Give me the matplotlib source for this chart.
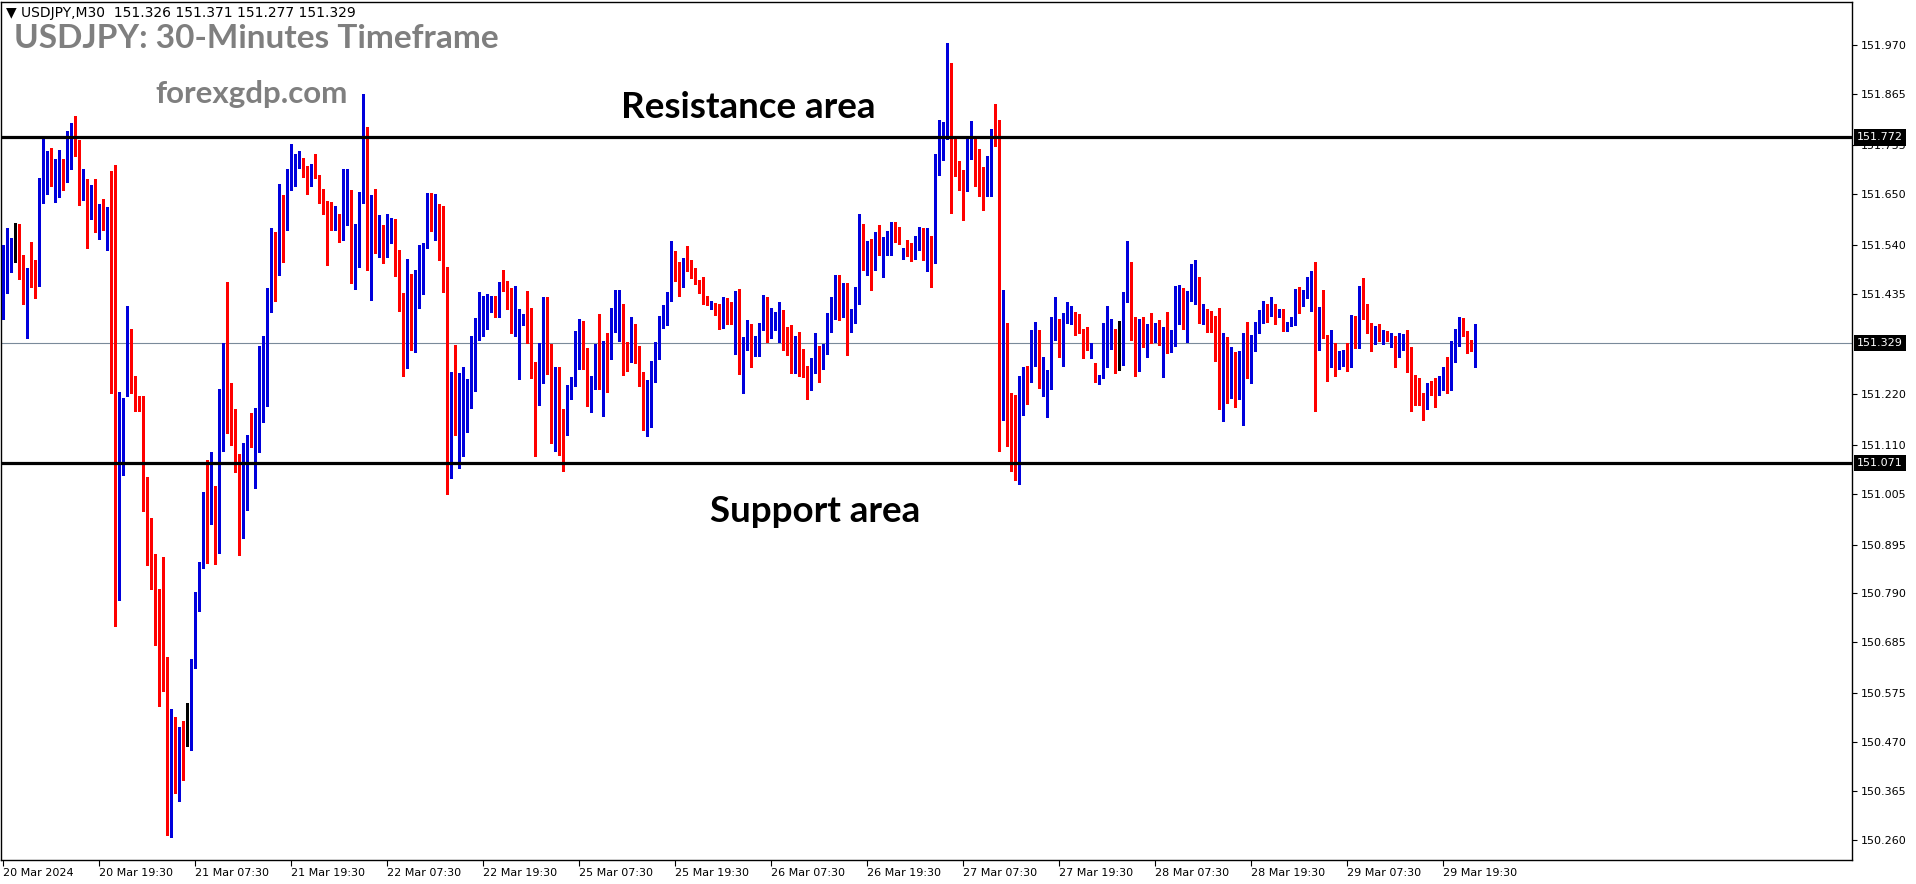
import matplotlib
matplotlib.use("Agg")
import matplotlib.pyplot as plt
import numpy as np
from matplotlib.transforms import blended_transform_factory

# ---------------- data (USDJPY M30 candles) ----------------
opens = [
    151.450, 151.487, 151.530, 151.541, 151.544, 151.475, 151.433, 151.491, 151.470, 151.453,
    151.658, 151.684, 151.729, 151.667, 151.708, 151.709, 151.681, 151.763, 151.766, 151.750,
    151.677, 151.679, 151.600, 151.664, 151.588, 151.616, 151.581, 151.618, 151.601, 150.785,
    151.084, 151.214, 151.355, 151.248, 151.205, 151.194, 150.975, 150.853, 150.846, 150.745,
    150.673, 150.625, 150.344, 150.508, 150.376, 150.496, 150.494, 150.490, 150.645, 150.767,
    150.854, 150.998, 150.995, 150.999, 150.881, 151.222, 151.274, 151.172, 151.158, 151.088,
    150.917, 151.112,
    151.115, 151.112, 151.123, 151.163, 151.326, 151.413, 151.539, 151.508, 151.623, 151.598,
    151.675, 151.696, 151.707, 151.726, 151.686, 151.673, 151.701, 151.689, 151.655, 151.611,
    151.603, 151.591, 151.604, 151.550, 151.617, 151.625, 151.475, 151.534, 151.630, 151.789,
    151.527, 151.630, 151.530, 151.571, 151.535, 151.592, 151.594, 151.488, 151.436, 151.310,
    151.453, 151.421, 151.478, 151.482, 151.536, 151.618, 151.589, 151.621, 151.589, 151.470,
    151.123, 151.216, 151.163, 151.170, 151.177, 151.192, 151.228, 151.351, 151.385, 151.389,
    151.398, 151.427, 151.409,
    151.459, 151.451, 151.430, 151.354, 151.268, 151.376, 151.382, 151.345, 151.288, 151.231,
    151.314, 151.416, 151.304, 151.202, 151.248, 151.140, 151.136, 151.237, 151.239, 151.314,
    151.365, 151.315, 151.214, 151.231, 151.320, 151.276, 151.327, 151.326, 151.356, 151.379,
    151.405, 151.313, 151.291, 151.315, 151.299, 151.241, 151.232, 151.240, 151.274, 151.296,
    151.363, 151.371, 151.423, 151.512, 151.490, 151.451, 151.512, 151.499, 151.479, 151.460,
    151.448, 151.425, 151.404, 151.414, 151.413, 151.361, 151.422, 151.394, 151.384, 151.389,
    151.286, 151.318,
    151.360, 151.314, 151.336, 151.365, 151.408, 151.356, 151.361, 151.371, 151.372, 151.336,
    151.317, 151.281, 151.324, 151.262, 151.261, 151.235, 151.271, 151.314, 151.277, 151.324,
    151.390, 151.402, 151.459, 151.402, 151.413, 151.368, 151.386, 151.413, 151.584, 151.489,
    151.524, 151.496, 151.567, 151.525, 151.541, 151.550, 151.584, 151.574, 151.512, 151.528,
    151.521, 151.510, 151.532, 151.569, 151.527, 151.529, 151.520, 151.692, 151.732, 151.768,
    151.893, 151.716, 151.703, 151.699, 151.693, 151.752, 151.755, 151.732, 151.700, 151.673,
    151.711, 151.787, 151.789,
    151.197, 151.371, 151.212, 151.205, 151.074, 151.233, 151.268, 151.254, 151.282, 151.330,
    151.236, 151.252, 151.256, 151.345, 151.378, 151.324, 151.384, 151.392, 151.394, 151.360,
    151.356, 151.329, 151.319, 151.285, 151.245, 151.256, 151.287, 151.330, 151.356, 151.297,
    151.294, 151.418, 151.502, 151.351, 151.302, 151.368, 151.324, 151.365, 151.339, 151.356,
    151.334, 151.354, 151.315, 151.338, 151.413, 151.442, 151.368, 151.433, 151.436, 151.463,
    151.395, 151.400, 151.376, 151.376, 151.356, 151.218, 151.302, 151.273, 151.285, 151.212,
    151.223, 151.345,
    151.296, 151.336, 151.368, 151.385, 151.401, 151.389, 151.404, 151.389, 151.400, 151.356,
    151.372, 151.379, 151.424, 151.415, 151.427, 151.444, 151.478, 151.317, 151.404, 151.343,
    151.279, 151.311, 151.279, 151.283, 151.295, 151.282, 151.357, 151.343, 151.468, 151.412,
    151.360, 151.342, 151.354, 151.344, 151.350, 151.339, 151.343, 151.307, 151.329, 151.340,
    151.272, 151.222, 151.208, 151.208, 151.194, 151.238, 151.233, 151.227, 151.230, 151.264,
    151.263, 151.299, 151.345, 151.380, 151.351, 151.317, 151.326,
]

highs = [
    151.541, 151.576, 151.554, 151.588, 151.585, 151.518, 151.490, 151.547, 151.507, 151.685,
    151.769, 151.743, 151.749, 151.726, 151.745, 151.726, 151.785, 151.802, 151.817, 151.766,
    151.703, 151.681, 151.669, 151.681, 151.628, 151.638, 151.621, 151.700, 151.712, 151.224,
    151.210, 151.408, 151.359, 151.259, 151.214, 151.214, 151.040, 150.953, 150.875, 150.799,
    150.869, 150.653, 150.541, 150.524, 150.503, 150.515, 150.554, 150.649, 150.794, 150.858,
    151.008, 151.077, 151.095, 151.021, 151.231, 151.330, 151.461, 151.242, 151.188, 151.090,
    151.113, 151.132,
    151.178, 151.190, 151.322, 151.345, 151.447, 151.577, 151.569, 151.672, 151.647, 151.704,
    151.758, 151.735, 151.743, 151.728, 151.709, 151.714, 151.735, 151.691, 151.661, 151.634,
    151.632, 151.625, 151.607, 151.703, 151.703, 151.659, 151.586, 151.655, 151.865, 151.794,
    151.647, 151.661, 151.605, 151.584, 151.607, 151.598, 151.596, 151.530, 151.436, 151.510,
    151.478, 151.487, 151.541, 151.544, 151.652, 151.652, 151.650, 151.628, 151.625, 151.493,
    151.266, 151.325, 151.264, 151.277, 151.252, 151.345, 151.383, 151.439, 151.430, 151.434,
    151.430, 151.430, 151.461,
    151.487, 151.463, 151.447, 151.452, 151.402, 151.391, 151.440, 151.404, 151.288, 151.330,
    151.429, 151.429, 151.327, 151.277, 151.277, 151.186, 151.239, 151.256, 151.355, 151.381,
    151.377, 151.319, 151.259, 151.326, 151.391, 151.334, 151.351, 151.404, 151.444, 151.443,
    151.412, 151.332, 151.384, 151.369, 151.322, 151.266, 151.250, 151.290, 151.332, 151.387,
    151.411, 151.438, 151.548, 151.527, 151.504, 151.513, 151.538, 151.508, 151.491, 151.464,
    151.472, 151.430, 151.419, 151.415, 151.413, 151.428, 151.425, 151.417, 151.442, 151.445,
    151.342, 151.379,
    151.370, 151.345, 151.373, 151.433, 151.429, 151.405, 151.395, 151.417, 151.401, 151.363,
    151.367, 151.345, 151.353, 151.317, 151.280, 151.296, 151.351, 151.322, 151.327, 151.393,
    151.427, 151.476, 151.476, 151.459, 151.459, 151.402, 151.449, 151.606, 151.586, 151.548,
    151.552, 151.569, 151.584, 151.557, 151.570, 151.590, 151.589, 151.578, 151.534, 151.551,
    151.544, 151.559, 151.579, 151.577, 151.576, 151.559, 151.735, 151.809, 151.804, 151.974,
    151.932, 151.769, 151.720, 151.701, 151.768, 151.806, 151.768, 151.746, 151.707, 151.732,
    151.789, 151.843, 151.808,
    151.444, 151.373, 151.222, 151.218, 151.257, 151.277, 151.280, 151.356, 151.375, 151.356,
    151.299, 151.270, 151.384, 151.429, 151.381, 151.393, 151.418, 151.408, 151.396, 151.391,
    151.359, 151.364, 151.328, 151.287, 151.261, 151.373, 151.408, 151.381, 151.359, 151.377,
    151.439, 151.548, 151.504, 151.384, 151.381, 151.386, 151.370, 151.393, 151.373, 151.379,
    151.364, 151.396, 151.356, 151.451, 151.453, 151.447, 151.442, 151.499, 151.507, 151.471,
    151.412, 151.402, 151.398, 151.387, 151.405, 151.350, 151.343, 151.320, 151.309, 151.311,
    151.350, 151.375,
    151.347, 151.375, 151.401, 151.420, 151.412, 151.429, 151.413, 151.403, 151.402, 151.375,
    151.386, 151.446, 151.449, 151.444, 151.471, 151.485, 151.504, 151.406, 151.444, 151.346,
    151.357, 151.329, 151.312, 151.313, 151.328, 151.390, 151.388, 151.451, 151.468, 151.413,
    151.373, 151.365, 151.371, 151.356, 151.354, 151.351, 151.344, 151.351, 151.348, 151.357,
    151.321, 151.261, 151.253, 151.222, 151.244, 151.248, 151.253, 151.257, 151.277, 151.299,
    151.334, 151.360, 151.385, 151.383, 151.354, 151.336, 151.371,
]

lows = [
    151.381, 151.436, 151.482, 151.504, 151.467, 151.413, 151.339, 151.450, 151.425, 151.451,
    151.630, 151.649, 151.667, 151.632, 151.643, 151.658, 151.675, 151.703, 151.731, 151.626,
    151.636, 151.533, 151.596, 151.567, 151.552, 151.572, 151.530, 151.222, 150.719, 150.776,
    151.044, 151.214, 151.222, 151.182, 151.183, 150.967, 150.852, 150.799, 150.679, 150.548,
    150.579, 150.270, 150.266, 150.361, 150.344, 150.389, 150.462, 150.454, 150.630, 150.753,
    150.844, 150.856, 150.940, 150.853, 150.878, 151.097, 151.135, 151.110, 151.052, 150.873,
    150.909, 150.970,
    151.106, 151.016, 151.095, 151.160, 151.194, 151.396, 151.419, 151.476, 151.504, 151.573,
    151.659, 151.666, 151.705, 151.686, 151.649, 151.667, 151.684, 151.630, 151.607, 151.496,
    151.573, 151.573, 151.546, 151.550, 151.584, 151.459, 151.446, 151.493, 151.630, 151.487,
    151.422, 151.522, 151.514, 151.501, 151.514, 151.545, 151.474, 151.399, 151.259, 151.276,
    151.313, 151.309, 151.404, 151.434, 151.534, 151.571, 151.550, 151.508, 151.438, 151.004,
    151.038, 151.131, 151.060, 151.086, 151.138, 151.190, 151.225, 151.336, 151.345, 151.359,
    151.396, 151.384, 151.384,
    151.442, 151.402, 151.351, 151.345, 151.251, 151.368, 151.330, 151.254, 151.086, 151.195,
    151.242, 151.263, 151.114, 151.097, 151.089, 151.054, 151.132, 151.208, 151.236, 151.273,
    151.273, 151.193, 151.180, 151.229, 151.231, 151.172, 151.223, 151.295, 151.353, 151.334,
    151.260, 151.269, 151.288, 151.286, 151.236, 151.142, 151.129, 151.149, 151.245, 151.294,
    151.361, 151.367, 151.420, 151.462, 151.430, 151.450, 151.485, 151.470, 151.457, 151.436,
    151.413, 151.411, 151.402, 151.390, 151.360, 151.361, 151.371, 151.371, 151.306, 151.262,
    151.221, 151.313,
    151.277, 151.302, 151.302, 151.358, 151.332, 151.339, 151.358, 151.332, 151.315, 151.303,
    151.264, 151.264, 151.259, 151.256, 151.208, 151.228, 151.265, 151.246, 151.273, 151.305,
    151.353, 151.381, 151.378, 151.384, 151.303, 151.353, 151.372, 151.413, 151.487, 151.475,
    151.443, 151.486, 151.519, 151.472, 151.518, 151.518, 151.546, 151.542, 151.510, 151.516,
    151.505, 151.509, 151.529, 151.507, 151.484, 151.450, 151.501, 151.690, 151.723, 151.768,
    151.609, 151.689, 151.658, 151.593, 151.656, 151.726, 151.666, 151.645, 151.616, 151.645,
    151.645, 151.752, 151.097,
    151.163, 151.108, 151.054, 151.034, 151.026, 151.174, 151.197, 151.246, 151.280, 151.232,
    151.214, 151.169, 151.231, 151.336, 151.299, 151.280, 151.373, 151.371, 151.347, 151.351,
    151.296, 151.315, 151.296, 151.245, 151.240, 151.254, 151.277, 151.317, 151.265, 151.272,
    151.282, 151.417, 151.336, 151.259, 151.268, 151.320, 151.299, 151.330, 151.331, 151.325,
    151.255, 151.307, 151.309, 151.322, 151.371, 151.360, 151.332, 151.420, 151.413, 151.373,
    151.371, 151.352, 151.352, 151.291, 151.186, 151.162, 151.199, 151.210, 151.192, 151.208,
    151.152, 151.253,
    151.244, 151.311, 151.350, 151.372, 151.375, 151.387, 151.371, 151.385, 151.355, 151.355,
    151.365, 151.368, 151.394, 151.408, 151.425, 151.398, 151.182, 151.315, 151.339, 151.248,
    151.277, 151.257, 151.274, 151.280, 151.268, 151.277, 151.318, 151.319, 151.381, 151.350,
    151.311, 151.326, 151.334, 151.326, 151.334, 151.321, 151.278, 151.299, 151.313, 151.266,
    151.183, 151.196, 151.196, 151.164, 151.186, 151.217, 151.192, 151.218, 151.228, 151.222,
    151.227, 151.288, 151.322, 151.344, 151.307, 151.311, 151.277,
]

closes = [
    151.487, 151.530, 151.539, 151.541, 151.475, 151.433, 151.490, 151.470, 151.453, 151.659,
    151.687, 151.727, 151.667, 151.706, 151.710, 151.681, 151.763, 151.769, 151.750, 151.676,
    151.680, 151.596, 151.667, 151.590, 151.616, 151.581, 151.621, 151.601, 150.787, 151.084,
    151.207, 151.354, 151.240, 151.208, 151.194, 150.970, 150.852, 150.844, 150.742, 150.671,
    150.622, 150.344, 150.506, 150.371, 150.494, 150.492, 150.494, 150.649, 150.772, 150.854,
    151.004, 150.992, 150.999, 150.882, 151.225, 151.256, 151.172, 151.157, 151.084, 150.921,
    151.113, 151.114,
    151.109, 151.129, 151.168, 151.328, 151.408, 151.541, 151.510, 151.623, 151.596, 151.675,
    151.700, 151.707, 151.726, 151.686, 151.675, 151.701, 151.686, 151.655, 151.634, 151.604,
    151.590, 151.604, 151.550, 151.617, 151.640, 151.482, 151.534, 151.631, 151.785, 151.527,
    151.633, 151.527, 151.573, 151.533, 151.588, 151.593, 151.486, 151.434, 151.310, 151.453,
    151.421, 151.476, 151.482, 151.535, 151.618, 151.588, 151.621, 151.590, 151.470, 151.126,
    151.216, 151.156, 151.170, 151.178, 151.192, 151.228, 151.352, 151.386, 151.390, 151.398,
    151.425, 151.408, 151.456,
    151.451, 151.427, 151.354, 151.450, 151.376, 151.384, 151.342, 151.283, 151.231, 151.314,
    151.416, 151.307, 151.200, 151.249, 151.140, 151.138, 151.237, 151.239, 151.315, 151.371,
    151.312, 151.215, 151.233, 151.323, 151.276, 151.326, 151.325, 151.360, 151.379, 151.405,
    151.313, 151.290, 151.315, 151.297, 151.238, 151.232, 151.241, 151.273, 151.297, 151.364,
    151.373, 151.425, 151.512, 151.485, 151.452, 151.510, 151.499, 151.478, 151.459, 151.446,
    151.424, 151.413, 151.413, 151.411, 151.361, 151.422, 151.392, 151.383, 151.388, 151.286,
    151.318, 151.362,
    151.314, 151.336, 151.367, 151.411, 151.356, 151.361, 151.370, 151.373, 151.336, 151.317,
    151.282, 151.324, 151.262, 151.259, 151.237, 151.271, 151.315, 151.277, 151.324, 151.390,
    151.402, 151.456, 151.402, 151.413, 151.370, 151.386, 151.413, 151.584, 151.489, 151.521,
    151.496, 151.567, 151.521, 151.541, 151.552, 151.584, 151.574, 151.553, 151.527, 151.518,
    151.509, 151.532, 151.568, 151.525, 151.529, 151.520, 151.692, 151.733, 151.768, 151.893,
    151.716, 151.703, 151.698, 151.693, 151.752, 151.754, 151.731, 151.701, 151.673, 151.709,
    151.785, 151.785, 151.197,
    151.371, 151.208, 151.202, 151.083, 151.233, 151.268, 151.254, 151.287, 151.330, 151.235,
    151.253, 151.257, 151.350, 151.377, 151.322, 151.386, 151.394, 151.394, 151.362, 151.354,
    151.326, 151.318, 151.321, 151.256, 151.259, 151.289, 151.330, 151.356, 151.296, 151.297,
    151.420, 151.504, 151.350, 151.299, 151.368, 151.322, 151.365, 151.338, 151.356, 151.334,
    151.354, 151.314, 151.342, 151.413, 151.439, 151.365, 151.429, 151.438, 151.461, 151.395,
    151.400, 151.376, 151.372, 151.356, 151.218, 151.302, 151.273, 151.288, 151.213, 151.223,
    151.347, 151.297,
    151.338, 151.371, 151.387, 151.401, 151.389, 151.402, 151.389, 151.400, 151.373, 151.372,
    151.380, 151.422, 151.413, 151.427, 151.444, 151.478, 151.317, 151.404, 151.345, 151.279,
    151.306, 151.277, 151.286, 151.294, 151.281, 151.356, 151.348, 151.451, 151.413, 151.359,
    151.342, 151.354, 151.344, 151.350, 151.336, 151.343, 151.307, 151.329, 151.339, 151.269,
    151.220, 151.208, 151.200, 151.194, 151.239, 151.232, 151.227, 151.229, 151.264, 151.263,
    151.299, 151.345, 151.385, 151.353, 151.317, 151.314, 151.329,
]

time_labels = ["20 Mar 2024", "20 Mar 19:30", "21 Mar 07:30", "21 Mar 19:30",
               "22 Mar 07:30", "22 Mar 19:30", "25 Mar 07:30", "25 Mar 19:30",
               "26 Mar 07:30", "26 Mar 19:30", "27 Mar 07:30", "27 Mar 19:30",
               "28 Mar 07:30", "28 Mar 19:30", "29 Mar 07:30", "29 Mar 19:30"]
bars_per_label = 24

price_ticks = [151.970, 151.865, 151.755, 151.650, 151.540, 151.435, 151.220,
               151.110, 151.005, 150.895, 150.790, 150.685, 150.575, 150.470,
               150.365, 150.260]

resistance = 151.772
support = 151.071
last_price = 151.329
info_line = "\u25BC USDJPY,M30  151.326 151.371 151.277 151.329"

# ---------------- figure ----------------
W, H = 1916, 884
fig = plt.figure(figsize=(W / 100, H / 100), dpi=100)
ax_left, ax_right, ax_top, ax_bottom = 1, 1852, 2, 860
ax = fig.add_axes([ax_left / W, (H - ax_bottom) / H,
                   (ax_right - ax_left) / W, (ax_bottom - ax_top) / H])

n = min(len(opens), len(highs), len(lows), len(closes))
o = np.array(opens[:n]); h = np.array(highs[:n])
l = np.array(lows[:n]); c = np.array(closes[:n])
x = np.arange(n)

UP, DOWN, DOJI = "#0000DC", "#FF0000", "#000000"
cols = np.where(c > o, UP, np.where(c < o, DOWN, DOJI))

ymin, ymax = 150.2163, 152.063
px = (ymax - ymin) / (ax_bottom - ax_top)

ax.vlines(x, l, h, colors=cols, linewidth=1.0, zorder=3, antialiased=False)
body_lo = np.minimum(o, c)
body_h = np.abs(c - o)
small = body_h < px
body_lo = np.where(small, body_lo - px / 2, body_lo)
body_h = np.where(small, px, body_h)
ax.bar(x, body_h, bottom=body_lo, width=0.8, color=cols, linewidth=0,
       zorder=4, antialiased=False)

ax.axhline(resistance, color="black", linewidth=2.3, zorder=5)
ax.axhline(support, color="black", linewidth=2.3, zorder=5)
ax.axhline(last_price, color="#7A8A9A", linewidth=0.8, zorder=2)

ax.set_xlim((ax_left - 3.3) / 4, (ax_right - 3.3) / 4)
ax.set_ylim(ymin, ymax)

# right price axis
ax.yaxis.tick_right()
ax.set_yticks(price_ticks)
ax.set_yticklabels([f"{v:.3f}" for v in price_ticks])
ax.tick_params(axis="y", direction="out", length=3.5, width=0.8, pad=3,
               labelsize=8, colors="black")

# bottom time axis
tick_pos = [i * bars_per_label for i in range(len(time_labels))]
ax.set_xticks(tick_pos)
ax.set_xticklabels(time_labels)
for t in ax.get_xticklabels():
    t.set_horizontalalignment("left")
ax.tick_params(axis="x", direction="out", length=4, width=0.8, pad=2,
               labelsize=8, colors="black")

for s in ax.spines.values():
    s.set_linewidth(1.0)
    s.set_color("black")

# highlighted price boxes
trans = blended_transform_factory(ax.transAxes, ax.transData)
for val in (resistance, last_price, support):
    ax.text(1.0 + 5 / (ax_right - ax_left), val, f"{val:.3f}", transform=trans,
            color="white", fontsize=8, va="center", ha="left", zorder=10,
            clip_on=False,
            bbox=dict(boxstyle="square,pad=0.3", fc="black", ec="none"))

# annotations
fig.text(6 / W, 1 - 13 / H, info_line, fontsize=10, va="center", ha="left",
         color="black", family="DejaVu Sans")
fig.text(14 / W, 1 - 39 / H, "USDJPY: 30-Minutes Timeframe", fontsize=24,
         fontweight="bold", color="#7F7F7F", va="center", ha="left",
         family="Lato")
fig.text(155 / W, 1 - 94 / H, "forexgdp.com", fontsize=22.5, fontweight="bold",
         color="#7F7F7F", va="center", ha="left", family="Lato")
fig.text(621 / W, 1 - 107 / H, "Resistance area", fontsize=26.5,
         fontweight="bold", color="black", va="center", ha="left",
         family="Lato")
fig.text(710 / W, 1 - 511 / H, "Support area", fontsize=26.5,
         fontweight="bold", color="black", va="center", ha="left",
         family="Lato")

fig.savefig("out.png", dpi=100, facecolor="white")
